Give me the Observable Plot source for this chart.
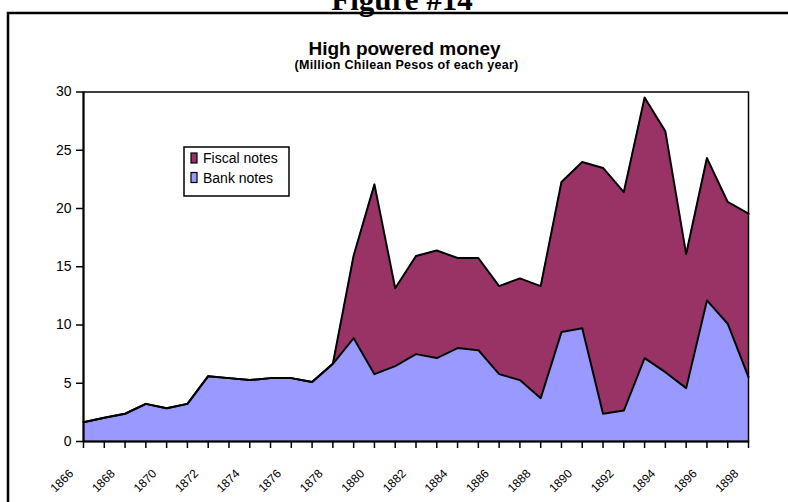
<!DOCTYPE html>
<html>
<head>
<meta charset="utf-8">
<script src="https://cdn.jsdelivr.net/npm/d3@7"></script>
<script src="https://cdn.jsdelivr.net/npm/@observablehq/plot@0.6"></script>
<style>
  html, body { margin: 0; padding: 0; background: white; }
  #chart { width: 788px; height: 502px; overflow: hidden; }
</style>
</head>
<body>
<div id="chart"></div>
<script>
const years = [1866,1867,1868,1869,1870,1871,1872,1873,1874,1875,1876,1877,1878,1879,1880,1881,1882,1883,1884,1885,1886,1887,1888,1889,1890,1891,1892,1893,1894,1895,1896,1897,1898];
const bankNotes = [1.66,2.03,2.38,3.23,2.86,3.23,5.61,5.44,5.27,5.44,5.44,5.10,6.67,8.87,5.78,6.47,7.50,7.16,8.02,7.84,5.78,5.27,3.72,9.39,9.73,2.38,2.66,7.16,5.95,4.58,12.11,10.11,5.53];
const fiscalNotes = [0,0,0,0,0,0,0,0,0,0,0,0,0,7.10,16.29,6.68,8.42,9.24,7.73,7.91,7.56,8.73,9.62,12.88,14.26,21.10,18.75,22.36,20.67,11.51,12.22,10.45,14.02];
const seriesNames = ["Fiscal notes", "Bank notes"];
const seriesColors = ["#993366", "#9999FF"];
const stackOrder = ["Bank notes", "Fiscal notes"];
const yTicks = [0, 5, 10, 15, 20, 25, 30];
const xLabelYears = [1866,1868,1870,1872,1874,1876,1878,1880,1882,1884,1886,1888,1890,1892,1894,1896,1898];
const figureLabel = "Figure #14";
const titleText = "High powered money";
const subtitleText = "(Million Chilean Pesos of each year)";

const data = years.flatMap((yr, i) => [
  {year: yr, series: "Bank notes", value: bankNotes[i]},
  {year: yr, series: "Fiscal notes", value: fiscalNotes[i]}
]);

const font = "Arial, 'Liberation Sans', Helvetica, sans-serif";

const chart = Plot.plot({
  width: 788,
  height: 502,
  marginLeft: 83,
  marginRight: 40,
  marginTop: 91.5,
  marginBottom: 61,
  style: {fontFamily: font, background: "white", color: "black"},
  x: {domain: [1866, 1898]},
  y: {domain: [0, 30]},
  color: {domain: seriesNames, range: seriesColors},
  marks: [
    Plot.areaY(data, {x: "year", y: "value", z: "series", fill: "series", order: stackOrder}),
    Plot.lineY(data, Plot.stackY2({x: "year", y: "value", z: "series", order: stackOrder, stroke: "black", strokeWidth: 2})),
    Plot.frame({stroke: "black", strokeWidth: 1.5}),
    Plot.ruleY([0], {stroke: "black", strokeWidth: 2}),
    Plot.ruleX([1866], {stroke: "black", strokeWidth: 2}),
    Plot.axisY({ticks: yTicks, tickSize: 7, tickPadding: 5, fontSize: 14, label: null, tickFormat: d => String(d), strokeWidth: 1.5}),
    Plot.axisX({ticks: years, tickSize: 7, tickFormat: () => "", label: null, strokeWidth: 1.5}),
    Plot.axisX({ticks: xLabelYears, tickSize: 0, tickPadding: 0, tickRotate: -45, fontSize: 12, label: null, tickFormat: d => String(d), dx: -12, dy: 30})
  ]
});

document.getElementById("chart").appendChild(chart);

const svg = d3.select(chart);
function txt(x, y, s, size, opts = {}) {
  return svg.append("text")
    .attr("x", x).attr("y", y)
    .attr("text-anchor", opts.anchor || "middle")
    .style("font-family", opts.family || font)
    .style("font-weight", opts.weight || "normal")
    .style("font-size", size + "px")
    .style("letter-spacing", (opts.spacing || 0) + "px")
    .attr("fill", "black")
    .text(s);
}
// outer figure frame
svg.append("path")
  .attr("d", "M8,502V13H788")
  .attr("fill", "none").attr("stroke", "black").attr("stroke-width", 2.5);
txt(402, 10, figureLabel, 31, {family: "'Times New Roman', 'Liberation Serif', serif", weight: "bold"});
txt(404.5, 55, titleText, 19, {weight: "bold"});
txt(406.5, 69, subtitleText, 12.5, {weight: "bold", spacing: 0.3});

// legend
svg.append("rect").attr("x", 184).attr("y", 147).attr("width", 105).attr("height", 49)
  .attr("fill", "white").attr("stroke", "black").attr("stroke-width", 1.5);
seriesNames.forEach((name, i) => {
  svg.append("rect").attr("x", 191).attr("y", 153 + i * 19.5).attr("width", 6).attr("height", 10)
    .attr("fill", seriesColors[i]).attr("stroke", "black").attr("stroke-width", 1.2);
  txt(203, 163 + i * 19.5, name, 14, {anchor: "start"});
});
</script>
</body>
</html>
